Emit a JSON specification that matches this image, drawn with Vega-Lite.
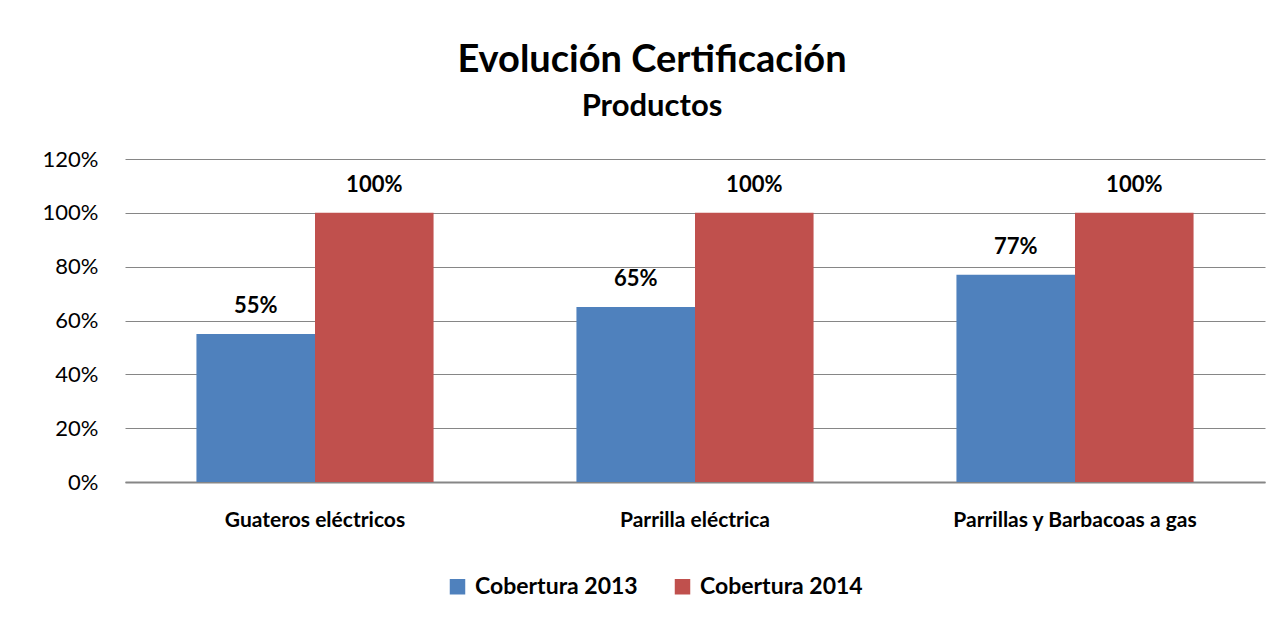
{
  "$schema": "https://vega.github.io/schema/vega-lite/v6.json",
  "width": 1140,
  "height": 323,
  "autosize": {"type": "none"},
  "padding": {"left": 125, "top": 159, "right": 15, "bottom": 141},
  "background": "white",
  "title": {
    "text": "Evolución Certificación",
    "subtitle": "Productos",
    "anchor": "middle",
    "dx": -43,
    "offset": 26,
    "font": "Lato",
    "fontSize": 38,
    "fontWeight": "bold",
    "color": "black",
    "subtitleFont": "Lato",
    "subtitleFontSize": 31,
    "subtitleFontWeight": "bold",
    "subtitleColor": "black",
    "subtitlePadding": 12
  },
  "data": {
    "values": [
      {"producto": "Guateros eléctricos", "serie": "Cobertura 2013", "valor": 0.55},
      {"producto": "Guateros eléctricos", "serie": "Cobertura 2014", "valor": 1.0},
      {"producto": "Parrilla eléctrica", "serie": "Cobertura 2013", "valor": 0.65},
      {"producto": "Parrilla eléctrica", "serie": "Cobertura 2014", "valor": 1.0},
      {"producto": "Parrillas y Barbacoas a gas", "serie": "Cobertura 2013", "valor": 0.77},
      {"producto": "Parrillas y Barbacoas a gas", "serie": "Cobertura 2014", "valor": 1.0}
    ]
  },
  "encoding": {
    "x": {
      "field": "producto",
      "type": "nominal",
      "sort": null,
      "title": null,
      "scale": {"paddingInner": 0.376, "paddingOuter": 0.188},
      "axis": {
        "labelAngle": 0,
        "labelFont": "Lato",
        "labelFontSize": 21,
        "labelFontWeight": "bold",
        "labelColor": "black",
        "labelPadding": 27,
        "labelLimit": 0,
        "ticks": false,
        "domainColor": "#868686",
        "domainWidth": 2,
        "grid": false
      }
    },
    "xOffset": {"field": "serie", "type": "nominal", "sort": null},
    "y": {
      "field": "valor",
      "type": "quantitative",
      "title": null,
      "scale": {"domain": [0, 1.2], "nice": false},
      "axis": {
        "values": [0, 0.2, 0.4, 0.6, 0.8, 1.0, 1.2],
        "format": ".0%",
        "labelFont": "Lato",
        "labelFontSize": 22,
        "labelColor": "black",
        "labelPadding": 27,
        "ticks": false,
        "domain": false,
        "gridColor": "#868686",
        "gridWidth": 1
      }
    }
  },
  "layer": [
    {
      "mark": {"type": "bar"},
      "encoding": {
        "color": {
          "field": "serie",
          "type": "nominal",
          "sort": null,
          "scale": {"range": ["#4F81BD", "#C0504D"]},
          "legend": {
            "title": null,
            "orient": "none",
            "direction": "horizontal",
            "legendX": 321,
            "legendY": 416,
            "symbolType": "square",
            "symbolSize": 240,
            "symbolStrokeWidth": 0,
            "labelFont": "Lato",
            "labelFontSize": 23,
            "labelFontWeight": "bold",
            "labelColor": "black",
            "labelLimit": 0,
            "columnPadding": 33,
            "labelOffset": 6
          }
        }
      }
    },
    {
      "mark": {"type": "text", "dy": -16, "baseline": "bottom", "font": "Lato", "fontSize": 22, "fontWeight": "bold", "color": "black"},
      "encoding": {
        "text": {"field": "valor", "type": "quantitative", "format": ".0%"}
      }
    }
  ],
  "config": {
    "view": {"stroke": null}
  }
}
